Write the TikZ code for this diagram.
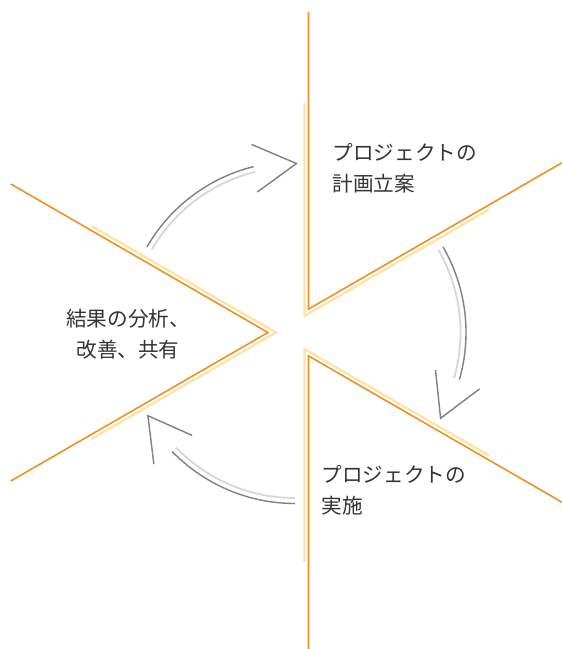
\documentclass[tikz,border=0pt]{standalone}
\usepackage{fontspec}
\newfontfamily\jp{Noto Sans CJK JP}
\usetikzlibrary{calc}
\definecolor{orng}{RGB}{238,145,35}
\definecolor{pale}{RGB}{252,228,165}
\definecolor{garr}{RGB}{128,128,128}
\definecolor{larr}{RGB}{215,215,215}
\definecolor{txt}{RGB}{51,51,51}
\tikzset{
  wedgeline/.style={draw=orng, line width=1.6pt},
  paleline/.style={draw=pale, line width=2.2pt},
  grayarc/.style={draw=garr, line width=1.4pt},
  lightarc/.style={draw=larr, line width=1.8pt},
  headline/.style={draw=garr, line width=1.4pt, line join=miter},
  label/.style={font=\jp\fontsize{20.6}{30.5}\selectfont, text=txt, inner sep=0pt}
}
\begin{document}
\begin{tikzpicture}[x=1pt,y=1pt]
\useasboundingbox (0,0) rectangle (562,649);
\clip (0,0) rectangle (562,649);
\coordinate (C) at (295,316.5);
% three wedges
\foreach \r in {0,120,240}{
  \begin{scope}[shift={(C)}, rotate=\r]
    \draw[paleline] ($(60:19)+(90:213)$) -- (60:19) -- ($(60:19)+(30:213)$);
    \draw[wedgeline] ($(60:27)+(90:297)$) -- (60:27) -- ($(60:27)+(30:297)$);
  \end{scope}
}
% three arrows
\foreach \r in {0,-120,-240}{
  \begin{scope}[shift={(C)}, rotate=\r]
    \draw[lightarc] (150:165.5) arc[start angle=150, end angle=104, radius=165.5];
    \draw[grayarc] (150:171) arc[start angle=150, end angle=104, radius=171];
    \draw[headline] (103:193) -- (89.5:169) -- (105:145.5);
  \end{scope}
}
\node[label, anchor=west, align=left] (plan) at (332.5,480.5) {プロジェクトの\\計画立案};
\node[label, anchor=west, align=left] (exec) at (321.5,158.5) {プロジェクトの\\実施};
\node[label, align=center] (review) at (128,315) {結果の分析、\\改善、共有};
\end{tikzpicture}
\end{document}
